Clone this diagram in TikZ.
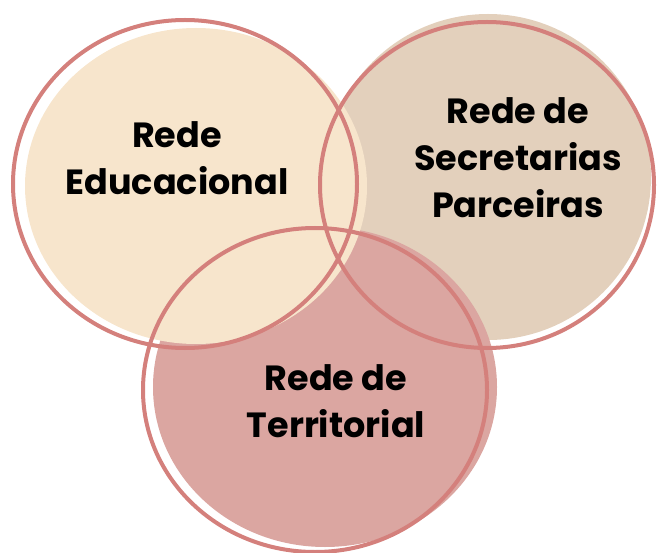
\documentclass[tikz,border=0pt]{standalone}
\usepackage{fontspec}
\newfontfamily\labelfont{Poppins}
\definecolor{cream}{HTML}{F7E5CC}
\definecolor{sand}{HTML}{E3D0BC}
\definecolor{rose}{HTML}{DBA6A1}
\definecolor{ringred}{HTML}{D4807C}

\begin{document}
\begin{tikzpicture}[% one unit is one pixel of the target, y grows downwards
		x=1pt,y=-1pt,
		every node/.style={
			align=center,	% lets "\\" break the label lines
			font=\labelfont\bfseries\fontsize{35}{47}\selectfont
		},
		ring/.style={draw=ringred,line width=4pt}
	]
	\useasboundingbox (0,0) rectangle (658,553);
	% filled discs, back to front
	\fill[sand] (488,177) ellipse [x radius=163,y radius=163];
	\fill[rose] (325,387) ellipse [x radius=172,y radius=160];
	\fill[cream] (196,186) ellipse [x radius=171,y radius=158];
	% offset outlines on top
	\draw[ring] (185,184) ellipse [x radius=172,y radius=164];
	\draw[ring] (487,185) ellipse [x radius=167,y radius=163];
	\draw[ring] (315,390) ellipse [x radius=172,y radius=162];
	% labels
	\node (E) at (177,158) {Rede\\Educacional};
	\node (S) at (518,158) {Rede de\\Secretarias\\Parceiras};
	\node (T) at (336,401) {Rede de\\Territorial};
\end{tikzpicture}
\end{document}
